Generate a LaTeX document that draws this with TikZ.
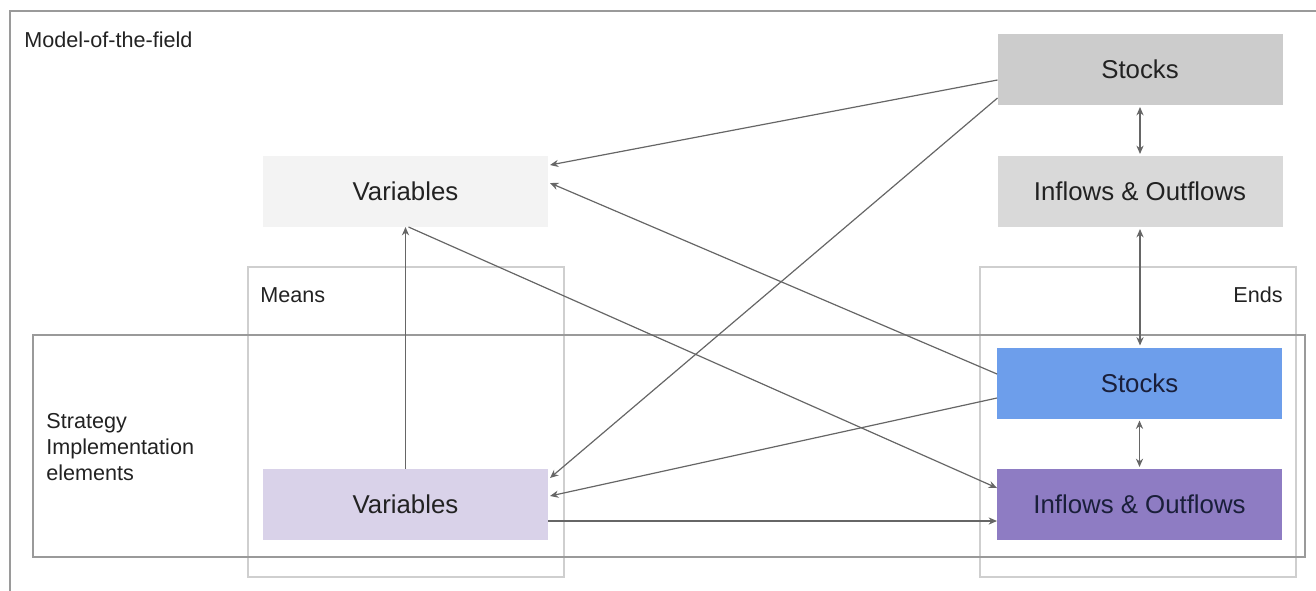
\documentclass[tikz,border=0pt]{standalone}
\usepackage{fontspec}
\setmainfont{Liberation Sans}
\usetikzlibrary{arrows.meta}
\definecolor{framegray}{HTML}{9A9A9A}
\definecolor{lightframe}{HTML}{CFCFCF}
\definecolor{arrowgray}{HTML}{666666}
\definecolor{txt}{HTML}{222222}
\definecolor{tsfill}{HTML}{CCCCCC}
\definecolor{tifill}{HTML}{D9D9D9}
\definecolor{tvfill}{HTML}{F3F3F3}
\definecolor{bsfill}{HTML}{6D9EEB}
\definecolor{bifill}{HTML}{8E7CC3}
\definecolor{bvfill}{HTML}{D9D2E9}
\definecolor{navy}{HTML}{1A1F3A}
\tikzset{
  box/.style={draw=none, inner sep=0pt, outer sep=0pt, minimum width=142.5pt, minimum height=35.5pt, font=\fontsize{12.9pt}{15pt}\selectfont, text=txt},
  lbl/.style={inner sep=0pt, font=\fontsize{10.8pt}{13pt}\selectfont, text=txt},
  conn/.style={draw=arrowgray, line width=0.6pt, -{Stealth[length=4.2pt,width=3.6pt]}},
  biconn/.style={draw=arrowgray, line width=0.6pt, {Stealth[length=4.2pt,width=3.6pt]}-{Stealth[length=4.2pt,width=3.6pt]}, shorten <=1pt, shorten >=1pt},
}
\begin{document}
\begin{tikzpicture}[x=0.5pt,y=-0.5pt]
\useasboundingbox (0,0) rectangle (1316,590);
% frames
\draw[framegray, line width=0.6pt] (10,11) rectangle (1340,610);
\draw[lightframe, line width=0.6pt] (248,267) rectangle (564,577);
\draw[lightframe, line width=0.6pt] (980,267) rectangle (1296,577);
\draw[framegray, line width=0.6pt] (33,335) rectangle (1305,557);
% labels
\node[lbl, anchor=base west] (mf) at (24,47) {Model-of-the-field};
\node[lbl, anchor=base west] (means) at (260,302) {Means};
\node[lbl, anchor=base east] (ends) at (1283,302) {Ends};
\node[lbl, anchor=west, align=left, font=\fontsize{10.8pt}{13pt}\selectfont] (sie) at (46,447) {Strategy\\Implementation\\elements};
% boxes
\node[box, fill=tsfill] (ts) at (1140,69.5) {Stocks};
\node[box, fill=tifill] (ti) at (1140,191.5) {Inflows \& Outflows};
\node[box, fill=tvfill] (tv) at (405.5,191.5) {Variables};
\node[box, fill=bsfill, text=navy] (bs) at (1139.5,383) {Stocks};
\node[box, fill=bifill, text=navy] (bi) at (1139.5,504.5) {Inflows \& Outflows};
\node[box, fill=bvfill] (bv) at (405.5,504.5) {Variables};
% connectors
\draw[conn] ([yshift=-5.25pt]ts.west) -- ([yshift=13.25pt,xshift=1pt]tv.east);
\draw[conn] ([yshift=-14.25pt]ts.west) -- ([yshift=13.25pt,xshift=1pt]bv.east);
\draw[conn] ([yshift=4.5pt]bs.west) -- ([yshift=4.25pt,xshift=1pt]tv.east);
\draw[conn] ([yshift=-7.5pt]bs.west) -- ([yshift=4.25pt,xshift=1pt]bv.east);
\draw[conn] ([xshift=1.5pt]tv.south) -- ([yshift=8.25pt]bi.west);
\draw[conn] (bv.north) -- (tv.south);
\draw[conn] ([yshift=-8.25pt]bv.east) -- ([yshift=-8.25pt]bi.west);
\draw[biconn] (ts.south) -- (ti.north);
\draw[biconn] (ti.south) -- ([xshift=0.25pt]bs.north);
\draw[biconn] (bs.south) -- (bi.north);
\end{tikzpicture}
\end{document}
